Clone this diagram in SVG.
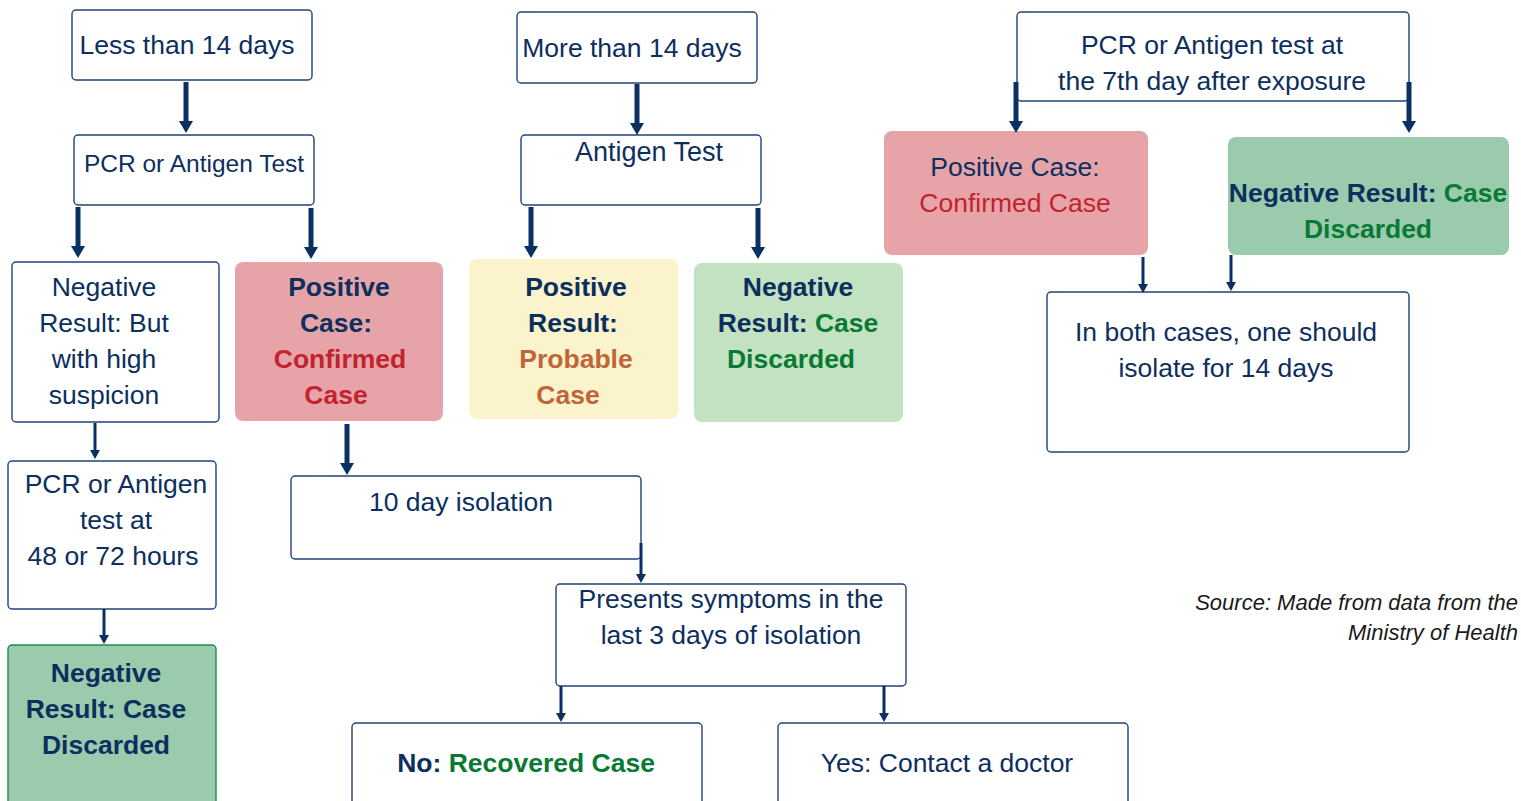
<svg xmlns="http://www.w3.org/2000/svg" width="1521" height="801" viewBox="0 0 1521 801">
<defs>
<style>
.box{fill:#ffffff;stroke:#1f4478;stroke-width:1.4}
.pink{fill:#e6a4a9}
.yellow{fill:#fbf3cb}
.lgreen{fill:#c3e2c1}
.mgreen{fill:#9acbad}
.t{font-family:"Liberation Sans",Arial,sans-serif;font-size:26.5px;fill:#0c2f5e;text-anchor:middle}
.s24{font-size:24.5px}
.b{font-weight:bold}
.red{fill:#c1232f}
.org{fill:#c0653a}
.grn{fill:#087a34}
.src{font-family:"Liberation Sans",Arial,sans-serif;font-size:22px;font-style:italic;fill:#1a1a1a;text-anchor:end}
.arr{stroke:#0a3061;stroke-width:5;fill:none}
.arr2{stroke:#0a3061;stroke-width:3;fill:none}
</style>
<marker id="ah" markerUnits="userSpaceOnUse" markerWidth="14" markerHeight="14" viewBox="0 -7 12 14" refX="0" refY="0" orient="auto" overflow="visible">
<path d="M0,-7 L12,0 L0,7 z" fill="#0a3061"/>
</marker>
<marker id="ahs" markerUnits="userSpaceOnUse" markerWidth="10" markerHeight="10" viewBox="0 -5 9 10" refX="0" refY="0" orient="auto" overflow="visible">
<path d="M0,-5 L9,0 L0,5 z" fill="#0a3061"/>
</marker>
</defs>
<rect width="1521" height="801" fill="#ffffff"/>

<g id="n-less14">
<rect class="box" x="72" y="10" width="240" height="70" rx="4"/>
<text class="t" x="187" y="54">Less than 14 days</text>
</g>
<g id="n-pcr-antigen">
<rect class="box" x="74" y="135" width="240" height="70" rx="4"/>
<text class="t s24" x="194" y="172">PCR or Antigen Test</text>
</g>
<g id="n-more14">
<rect class="box" x="517" y="12" width="240" height="71" rx="4"/>
<text class="t" x="632" y="57">More than 14 days</text>
</g>
<g id="n-antigen">
<rect class="box" x="521" y="135" width="240" height="70" rx="4"/>
<text class="t" x="649" y="161" style="font-size:27px">Antigen Test</text>
</g>
<g id="n-pcr-7th">
<rect class="box" x="1017" y="12" width="392" height="89" rx="4"/>
<text class="t" x="1212" y="54">PCR or Antigen test at</text>
<text class="t" x="1212" y="90">the 7th day after exposure</text>
</g>
<g id="n-neg-suspicion">
<rect class="box" x="12" y="262" width="207" height="160" rx="4"/>
<text class="t" x="104" y="296">Negative</text>
<text class="t" x="104" y="332">Result: But</text>
<text class="t" x="104" y="368">with high</text>
<text class="t" x="104" y="404">suspicion</text>
</g>
<g id="n-pos-confirmed">
<rect class="pink" x="235" y="262" width="208" height="159" rx="8"/>
<text class="t b" x="339" y="296">Positive</text>
<text class="t b" x="336" y="332">Case:</text>
<text class="t b red" x="340" y="368">Confirmed</text>
<text class="t b red" x="336" y="404">Case</text>
</g>
<g id="n-pos-probable">
<rect class="yellow" x="469" y="259" width="209" height="160" rx="8"/>
<text class="t b" x="576" y="296">Positive</text>
<text class="t b" x="573" y="332">Result:</text>
<text class="t b org" x="576" y="368">Probable</text>
<text class="t b org" x="568" y="404">Case</text>
</g>
<g id="n-neg-discarded">
<rect class="lgreen" x="694" y="263" width="209" height="159" rx="8"/>
<text class="t b" x="798" y="296">Negative</text>
<text class="t b" x="798" y="332">Result: <tspan class="grn">Case</tspan></text>
<text class="t b grn" x="791" y="368">Discarded</text>
</g>
<g id="n-pos-case-7th">
<rect class="pink" x="884" y="131" width="264" height="124" rx="8"/>
<text class="t" x="1015" y="176">Positive Case:</text>
<text class="t red" x="1015" y="212">Confirmed Case</text>
</g>
<g id="n-neg-case-7th">
<rect class="mgreen" x="1228" y="137" width="281" height="118" rx="8"/>
<text class="t b" x="1368" y="202">Negative Result: <tspan class="grn">Case</tspan></text>
<text class="t b grn" x="1368" y="238">Discarded</text>
</g>
<g id="n-isolate14">
<rect class="box" x="1047" y="292" width="362" height="160" rx="4"/>
<text class="t" x="1226" y="341">In both cases, one should</text>
<text class="t" x="1226" y="377">isolate for 14 days</text>
</g>
<g id="n-pcr-48-72">
<rect class="box" x="8" y="461" width="208" height="148" rx="4"/>
<text class="t" x="116" y="493">PCR or Antigen</text>
<text class="t" x="116" y="529">test at</text>
<text class="t" x="113" y="565">48 or 72 hours</text>
</g>
<g id="n-neg-final">
<rect x="8" y="645" width="208" height="170" rx="4" fill="#9acbad" stroke="#1f8a4a" stroke-width="1.4"/>
<text class="t b" x="106" y="682">Negative</text>
<text class="t b" x="106" y="718">Result: Case</text>
<text class="t b" x="106" y="754">Discarded</text>
</g>
<g id="n-10day">
<rect class="box" x="291" y="476" width="350" height="83" rx="4"/>
<text class="t" x="461" y="511">10 day isolation</text>
</g>
<g id="n-symptoms">
<rect class="box" x="556" y="584" width="350" height="102" rx="4"/>
<text class="t" x="731" y="608">Presents symptoms in the</text>
<text class="t" x="731" y="644">last 3 days of isolation</text>
</g>
<g id="n-recovered">
<rect class="box" x="352" y="723" width="350" height="90" rx="4"/>
<text class="t b" x="526" y="772">No: <tspan class="grn">Recovered Case</tspan></text>
</g>
<g id="n-doctor">
<rect class="box" x="778" y="723" width="350" height="90" rx="4"/>
<text class="t" x="947" y="772">Yes: Contact a doctor</text>
</g>

<g id="source">
<text class="src" x="1518" y="610">Source: Made from data from the</text>
<text class="src" x="1518" y="640">Ministry of Health</text>
</g>

<g id="connectors">
<line class="arr" x1="186" y1="82" x2="186" y2="121" marker-end="url(#ah)"/>
<line class="arr" x1="78" y1="207" x2="78" y2="246" marker-end="url(#ah)"/>
<line class="arr" x1="311" y1="208" x2="311" y2="247" marker-end="url(#ah)"/>
<line class="arr" x1="637" y1="84" x2="637" y2="123" marker-end="url(#ah)"/>
<line class="arr" x1="531" y1="207" x2="531" y2="246" marker-end="url(#ah)"/>
<line class="arr" x1="758" y1="208" x2="758" y2="247" marker-end="url(#ah)"/>
<line class="arr" x1="1016" y1="82" x2="1016" y2="121" marker-end="url(#ah)"/>
<line class="arr" x1="1409" y1="82" x2="1409" y2="121" marker-end="url(#ah)"/>
<line class="arr" x1="347" y1="424" x2="347" y2="463" marker-end="url(#ah)"/>
<line class="arr2" x1="1143" y1="257" x2="1143" y2="284" marker-end="url(#ahs)"/>
<line class="arr2" x1="1231" y1="255" x2="1231" y2="282" marker-end="url(#ahs)"/>
<line class="arr2" x1="95" y1="423" x2="95" y2="450" marker-end="url(#ahs)"/>
<line class="arr2" x1="641" y1="543" x2="641" y2="574" marker-end="url(#ahs)"/>
<line class="arr2" x1="104" y1="609" x2="104" y2="635" marker-end="url(#ahs)"/>
<line class="arr2" x1="561" y1="686" x2="561" y2="713" marker-end="url(#ahs)"/>
<line class="arr2" x1="884" y1="686" x2="884" y2="713" marker-end="url(#ahs)"/>
</g>
</svg>
